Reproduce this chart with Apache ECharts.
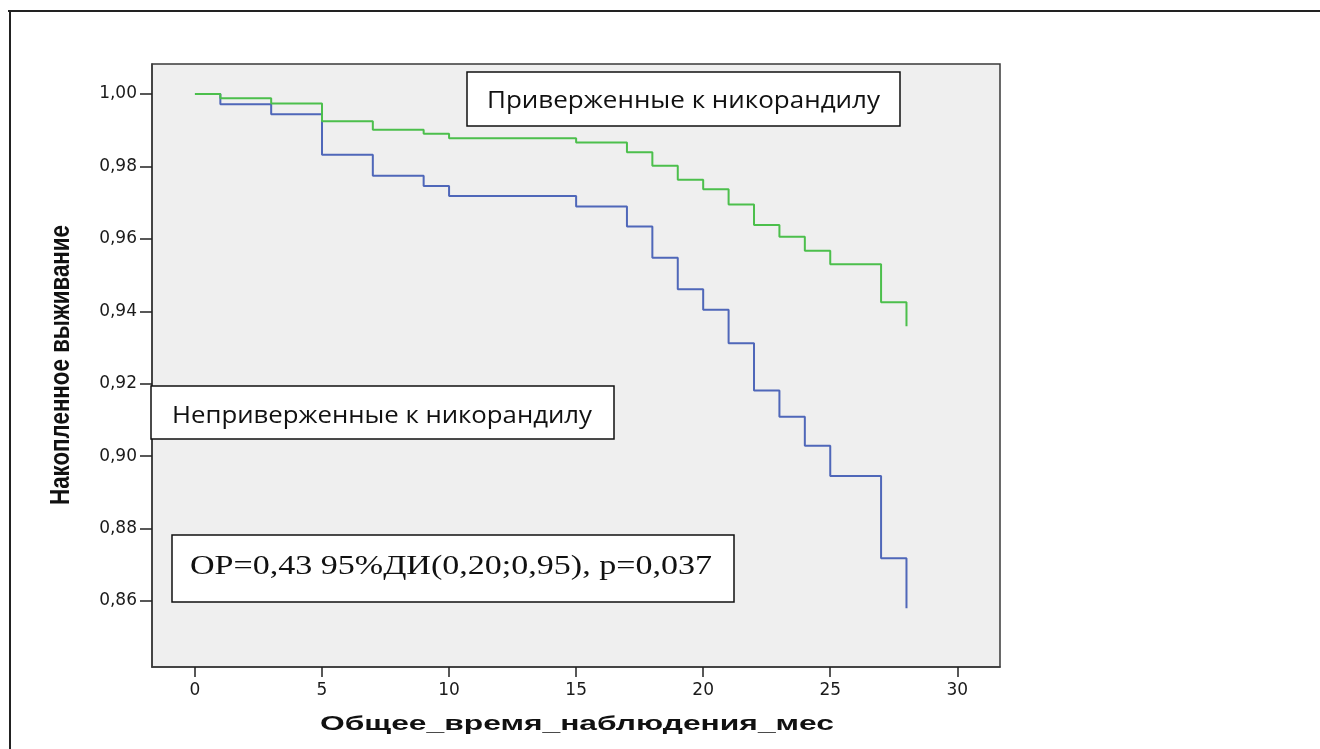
<!DOCTYPE html>
<html>
<head>
<meta charset="utf-8">
<script src="https://cdn.jsdelivr.net/npm/echarts@6/dist/echarts.min.js"></script>
<style>
html,body{margin:0;padding:0;background:#fff;}
#chart{width:1320px;height:749px;}
</style>
</head>
<body>
<div id="chart"></div>
<script>
// ---- data ----
const months = [0, 1, 3, 5, 7, 9, 10, 15, 17, 18, 19, 20, 21, 22, 23, 24, 25, 27, 28];
const adherent = [1.000, 0.9988, 0.9974, 0.9925, 0.9901, 0.9890, 0.9878, 0.9866, 0.9839, 0.9802, 0.9763, 0.9737, 0.9695, 0.9638, 0.9606, 0.9567, 0.9530, 0.9425, 0.9359];
const nonAdherent = [1.000, 0.9972, 0.9944, 0.9832, 0.9774, 0.9746, 0.9718, 0.9689, 0.9634, 0.9548, 0.9461, 0.9404, 0.9312, 0.9181, 0.9109, 0.9029, 0.8945, 0.8718, 0.8580];
const xTicks = [0, 5, 10, 15, 20, 25, 30];
const xTickLabels = ['0', '5', '10', '15', '20', '25', '30'];
const yTicks = [0.86, 0.88, 0.90, 0.92, 0.94, 0.96, 0.98, 1.00];
const yTickLabels = ['0,86', '0,88', '0,90', '0,92', '0,94', '0,96', '0,98', '1,00'];
const adherentLabel = 'Приверженные к никорандилу';
const nonAdherentLabel = 'Неприверженные к никорандилу';
const statsLabel = 'ОР=0,43 95%ДИ(0,20;0,95), р=0,037';
const xName = 'Общее_время_наблюдения_мес';
const yName = 'Накопленное выживание';

// ---- helpers ----
const cv = document.createElement('canvas').getContext('2d');
function measure(txt, font) { cv.font = font; return cv.measureText(txt).width; }
function pairs(xs, ys) { return xs.map((x, i) => [x, ys[i]]); }

const chart = echarts.init(document.getElementById('chart'), null, {renderer: 'canvas'});

const boxFont = '24px "Open Sans"';
const statsFont = '27px "Liberation Serif"';
const xNameFont = 'bold 21px "Liberation Sans"';
const yNameFont = 'bold 20px "Liberation Sans"';

const option = {
  backgroundColor: '#ffffff',
  animation: false,
  grid: {
    left: 152, top: 64, width: 848, height: 603,
    show: true, backgroundColor: '#efefef', borderColor: '#3a3a3a', borderWidth: 1.5,
    containLabel: false
  },
  xAxis: {
    type: 'value', min: -1.69, max: 31.68,
    axisLine: {show: true, onZero: false, lineStyle: {color: '#3a3a3a', width: 1.5}},
    axisTick: {show: true, inside: false, length: 10, customValues: xTicks, lineStyle: {color: '#222', width: 1.5}},
    axisLabel: {
      show: true, customValues: xTicks, margin: 15,
      fontFamily: 'DejaVu Sans', fontSize: 17, color: '#1a1a1a',
      formatter: v => xTickLabels[xTicks.indexOf(Math.round(v))] ?? ''
    },
    splitLine: {show: false}
  },
  yAxis: {
    type: 'value', min: 0.84178, max: 1.00828,
    axisLine: {show: true, onZero: false, lineStyle: {color: '#3a3a3a', width: 1.5}},
    axisTick: {show: true, inside: false, length: 12, customValues: yTicks, lineStyle: {color: '#222', width: 1.5}},
    axisLabel: {
      show: true, customValues: yTicks, margin: 15,
      fontFamily: 'DejaVu Sans', fontSize: 17, color: '#1a1a1a',
      formatter: v => {
        const i = yTicks.findIndex(t => Math.abs(t - v) < 1e-6);
        return i >= 0 ? yTickLabels[i] : '';
      }
    },
    splitLine: {show: false}
  },
  series: [
    {
      name: nonAdherentLabel, type: 'line', step: 'end', showSymbol: false,
      data: pairs(months, nonAdherent),
      lineStyle: {color: '#4f67b9', width: 2}, itemStyle: {color: '#4f67b9'}, z: 2
    },
    {
      name: adherentLabel, type: 'line', step: 'end', showSymbol: false,
      data: pairs(months, adherent),
      lineStyle: {color: '#4cbf4c', width: 2}, itemStyle: {color: '#4cbf4c'}, z: 3
    }
  ],
  graphic: [
    // outer frame
    {type: 'line', shape: {x1: 8, y1: 11, x2: 1320, y2: 11}, style: {stroke: '#222', lineWidth: 2}, z: 10},
    {type: 'line', shape: {x1: 10, y1: 11, x2: 10, y2: 749}, style: {stroke: '#222', lineWidth: 2}, z: 10},
    // annotation boxes
    {type: 'rect', shape: {x: 467, y: 72, width: 433, height: 54}, style: {fill: '#fff', stroke: '#111', lineWidth: 1.5}, z: 20},
    {type: 'text', x: 487, y: 101, z: 21,
      scaleX: 393 / measure(adherentLabel, boxFont),
      style: {text: adherentLabel, font: boxFont, fill: '#111', textAlign: 'left', textVerticalAlign: 'middle'}},
    {type: 'rect', shape: {x: 151, y: 386, width: 463, height: 53}, style: {fill: '#fff', stroke: '#111', lineWidth: 1.5}, z: 20},
    {type: 'text', x: 172, y: 416, z: 21,
      scaleX: 420 / measure(nonAdherentLabel, boxFont),
      style: {text: nonAdherentLabel, font: boxFont, fill: '#111', textAlign: 'left', textVerticalAlign: 'middle'}},
    {type: 'rect', shape: {x: 172, y: 535, width: 562, height: 67}, style: {fill: '#fff', stroke: '#111', lineWidth: 1.5}, z: 20},
    {type: 'text', x: 190, y: 567, z: 21,
      scaleX: 522 / measure(statsLabel, statsFont),
      style: {text: statsLabel, font: statsFont, fill: '#111', textAlign: 'left', textVerticalAlign: 'middle'}},
    // axis titles
    {type: 'text', x: 577, y: 724, z: 21,
      scaleX: 514 / measure(xName, xNameFont),
      style: {text: xName, font: xNameFont, fill: '#111', textAlign: 'center', textVerticalAlign: 'middle'}},
    {type: 'text', x: 62, y: 365, z: 21, rotation: Math.PI / 2,
      scaleX: 280 / measure(yName, yNameFont), scaleY: 1.35,
      style: {text: yName, font: yNameFont, fill: '#111', textAlign: 'center', textVerticalAlign: 'middle'}}
  ]
};
chart.setOption(option);
</script>
</body>
</html>
